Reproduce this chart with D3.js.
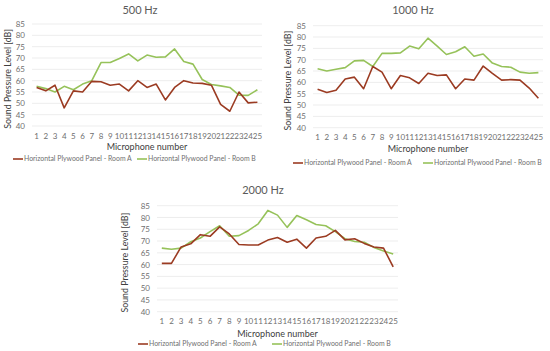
<!DOCTYPE html>
<html>
<head>
<meta charset="utf-8">
<script src="https://cdn.jsdelivr.net/npm/d3@7"></script>
<style>
  body { margin: 0; background: #fff; }
  svg { display: block; font-family: Lato, "Open Sans", sans-serif; }
</style>
</head>
<body>
<svg id="chart" width="550" height="351"></svg>
<script>
// microphone positions 1..25
var mics = d3.range(1, 26);
var yTicks = [40, 45, 50, 55, 60, 65, 70, 75, 80, 85];
var seriesNames = ["Horizontal Plywood Panel - Room A", "Horizontal Plywood Panel - Room B"];

// 500 Hz
var hz500A = [57, 55.5, 58, 48, 55.5, 55, 59.7, 59.5, 58, 58.5, 55.5, 60, 57, 58.5, 51.5, 57, 60, 59, 58.8, 58, 49.5, 46.5, 55, 50.2, 50.5];
var hz500B = [57.5, 56.5, 55, 57.5, 56, 58.5, 60, 68, 68, 69.8, 71.8, 68.7, 71.3, 70.3, 70.5, 74, 68.5, 67.3, 60.5, 58.3, 57.7, 57, 53.6, 53.5, 56];
// 1000 Hz
var hz1000A = [57, 55.5, 56.5, 61.5, 62.3, 57.2, 67, 64.5, 57.2, 63, 62, 59.5, 64, 63, 63.3, 57.2, 61.5, 61, 67.2, 64, 61, 61.2, 61, 57.5, 53];
var hz1000B = [66, 65, 65.8, 66.5, 69.5, 69.7, 67, 72.8, 72.8, 73, 76, 74.8, 79.5, 76, 72.3, 73.5, 75.7, 71.5, 72.5, 68.5, 67, 66.7, 64.5, 64, 64.3];
// 2000 Hz
var hz2000A = [60.5, 60.5, 67.5, 68.8, 72.7, 72, 76, 73, 68.5, 68.3, 68.3, 70.4, 71.5, 69.5, 70.8, 67, 71.3, 72, 74.5, 70.5, 71, 69, 67.5, 67, 59];
var hz2000B = [67, 66.5, 67, 69.7, 71.3, 74, 76.5, 72, 72.3, 74.5, 77.3, 83, 81, 75.8, 80.8, 79, 77, 76.5, 74, 71, 69.8, 69.5, 67.3, 65.8, 64.5];

var colorA = "#9b3b22";
var colorB = "#96c25a";
var textColor = "#6f6f6f";

var svg = d3.select("#chart");

/***** Panel layout *****/
var panels = [
    { title: "500 Hz", a: hz500A, b: hz500B,
      left: 32, right: 262, top: 24, bottom: 126, titleX: 140, titleY: 14,
      yLabelX: 8, xTitleY: 150, legendY: 159, legA: 13, legB: 137 },
    { title: "1000 Hz", a: hz1000A, b: hz1000B,
      left: 313, right: 543, top: 25.7, bottom: 127.7, titleX: 413, titleY: 14,
      yLabelX: 288, xTitleY: 152, legendY: 163, legA: 293, legB: 423 },
    { title: "2000 Hz", a: hz2000A, b: hz2000B,
      left: 157, right: 398, top: 205.7, bottom: 311.7, titleX: 263, titleY: 194,
      yLabelX: 125, xTitleY: 337, legendY: 344, legA: 138, legB: 272 }
];

panels.forEach(function (p) {
    var g = svg.append("g");

    var x = d3.scaleBand().domain(mics).range([p.left, p.right]);
    var y = d3.scaleLinear().domain([40, 85]).range([p.bottom, p.top]);
    var cx = function (d) { return x(d) + x.bandwidth() / 2; };

    // grid
    g.selectAll(".grid").data(yTicks).enter().append("line")
        .attr("x1", p.left).attr("x2", p.right)
        .attr("y1", function (d) { return y(d); })
        .attr("y2", function (d) { return y(d); })
        .attr("stroke", "#e8e8e8").attr("stroke-width", 0.8);

    // y axis
    var yAxis = d3.axisLeft(y).tickValues(yTicks).tickSize(0).tickPadding(7);
    g.append("g").attr("transform", "translate(" + p.left + ",0)").call(yAxis)
        .call(function (s) { s.select(".domain").remove(); })
        .selectAll("text").attr("fill", textColor).style("font-size", "8px")
        .style("font-family", "Lato, sans-serif");

    // x axis
    var xAxis = d3.axisBottom(x).tickSize(0).tickPadding(7);
    g.append("g").attr("transform", "translate(0," + p.bottom + ")").call(xAxis)
        .call(function (s) { s.select(".domain").remove(); })
        .selectAll("text").attr("fill", textColor).style("font-size", "8px")
        .style("font-family", "Lato, sans-serif");

    // lines
    var line = d3.line()
        .x(function (d, i) { return cx(mics[i]); })
        .y(function (d) { return y(d); });
    g.append("path").datum(p.b).attr("d", line)
        .attr("fill", "none").attr("stroke", colorB).attr("stroke-width", 1.6)
        .attr("stroke-linejoin", "round");
    g.append("path").datum(p.a).attr("d", line)
        .attr("fill", "none").attr("stroke", colorA).attr("stroke-width", 1.6)
        .attr("stroke-linejoin", "round");

    // titles
    g.append("text").attr("x", p.titleX).attr("y", p.titleY)
        .attr("text-anchor", "middle").attr("fill", "#5a5a5a")
        .style("font-size", "11px").text(p.title);
    g.append("text").attr("x", (p.left + p.right) / 2).attr("y", p.xTitleY)
        .attr("text-anchor", "middle").attr("fill", "#404040")
        .style("font-size", "9px").text("Microphone number");
    g.append("text")
        .attr("transform", "translate(" + p.yLabelX + "," + ((p.top + p.bottom) / 2 + 4) + ") rotate(-90)")
        .attr("text-anchor", "middle").attr("dy", "0.35em").attr("fill", "#404040")
        .style("font-size", "8.8px").text("Sound Pressure Level [dB]");

    // legend
    [[p.legA, colorA, seriesNames[0]], [p.legB, colorB, seriesNames[1]]].forEach(function (l) {
        g.append("line").attr("x1", l[0]).attr("x2", l[0] + 10)
            .attr("y1", p.legendY).attr("y2", p.legendY)
            .attr("stroke", l[1]).attr("stroke-width", 1.6);
        g.append("text").attr("x", l[0] + 11).attr("y", p.legendY).attr("dy", "0.35em")
            .attr("fill", textColor).style("font-size", "6.9px").text(l[2]);
    });
});
</script>
</body>
</html>
